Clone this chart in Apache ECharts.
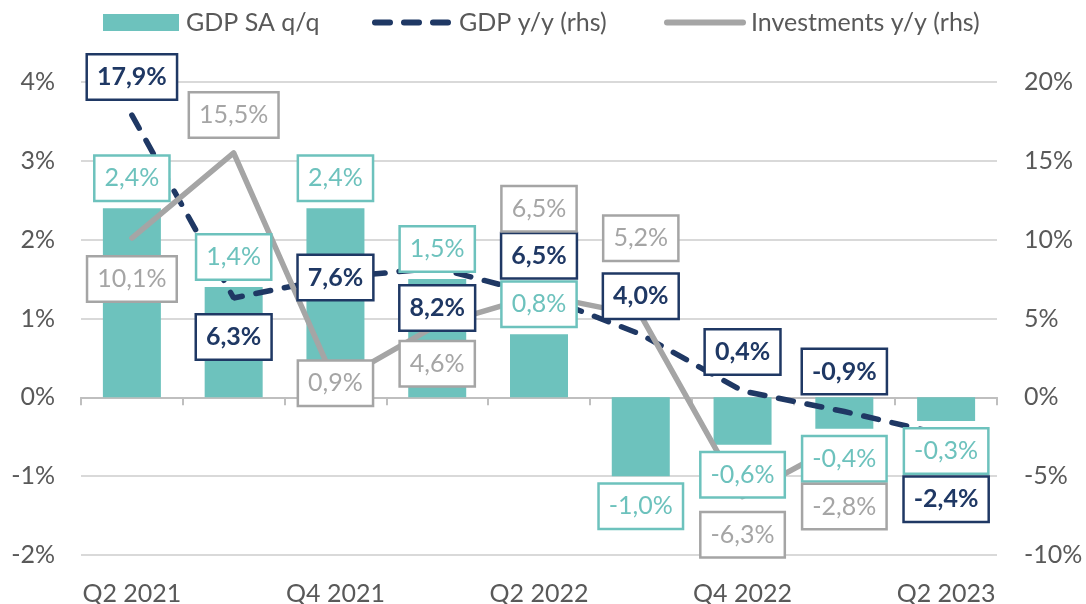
<!DOCTYPE html>
<html>
<head>
<meta charset="utf-8">
<script src="https://cdn.jsdelivr.net/npm/echarts@6/dist/echarts.min.js"></script>
<style>
html,body{margin:0;padding:0;background:#fff;}
#chart{width:1086px;height:604px;}
</style>
</head>
<body>
<div id="chart"></div>
<script>
const categories = ['Q2 2021','Q3 2021','Q4 2021','Q1 2022','Q2 2022','Q3 2022','Q4 2022','Q1 2023','Q2 2023'];
const gdpSaQq = [2.4, 1.4, 2.4, 1.5, 0.8, -1.0, -0.6, -0.4, -0.3];
const gdpYy = [17.9, 6.3, 7.6, 8.2, 6.5, 4.0, 0.4, -0.9, -2.4];
const investYy = [10.1, 15.5, 0.9, 4.6, 6.5, 5.2, -6.3, -2.8, null];
const leftAxisTicks = {min: -2, max: 4, interval: 1};
const rightAxisTicks = {min: -10, max: 20, interval: 5};

// label vertical offsets (px) relative to the point
const gdpYyLabelDy = [-38, 39, 0, 40, -39, -38, -39, -40, 64];
const investLabelDy = [41, -38, 0, 39, -86, -77, 38, 65, 0];

const TEAL = '#6DC2BD';
const NAVY = '#1F3864';
const GREY = '#A5A5A5';
const AXIS_TXT = '#595959';
const FONT = 'Lato';
const DASH = [15, 14];

const fmt = v => v.toFixed(1).replace('.', ',') + '%';

function boxLabel(color, bold) {
  return {
    show: true,
    formatter: p => fmt(p.value),
    color: color,
    fontFamily: FONT,
    fontSize: 25,
    fontWeight: bold ? 'bold' : 'normal',
    lineHeight: 29,
    backgroundColor: '#fff',
    borderColor: color,
    borderWidth: 2.5,
    padding: [7, 9, 7, 9]
  };
}

const barLabelData = gdpSaQq.map(v => ({
  value: v,
  label: {position: v >= 0 ? 'top' : 'bottom', distance: 8}
}));
const gdpYyLabelData = gdpYy.map((v, i) => ({
  value: v,
  label: {offset: [0, gdpYyLabelDy[i]]}
}));
const investLabelData = investYy.map((v, i) => ({
  value: v,
  label: {offset: [0, investLabelDy[i]]}
}));

function labelCarrier(name, yIdx, data, label) {
  return {
    name: name,
    type: 'scatter',
    xAxisIndex: 0, yAxisIndex: yIdx,
    data: data,
    symbol: 'circle', symbolSize: 1,
    itemStyle: {color: 'rgba(0,0,0,0)', opacity: 1},
    emphasis: {disabled: true},
    label: label,
    silent: true,
    z: 10
  };
}

const chart = echarts.init(document.getElementById('chart'), null, {renderer: 'canvas'});
const legendBase = {
  top: 10,
  padding: 0,
  itemWidth: 76,
  itemHeight: 17,
  textStyle: {color: AXIS_TXT, fontFamily: FONT, fontSize: 25, padding: [0, 0, 0, 3]},
  itemStyle: {color: 'rgba(0,0,0,0)', borderWidth: 0},
  selectedMode: false
};
chart.setOption({
  animation: false,
  backgroundColor: '#fff',
  legend: [
    Object.assign({}, legendBase, {left: 103, data: [{name: 'GDP SA q/q', icon: 'rect'}],
      itemStyle: {color: TEAL}, textStyle: Object.assign({}, legendBase.textStyle, {padding: [0, 0, 0, 2]})}),
    Object.assign({}, legendBase, {left: 372,
      data: ['GDP y/y (rhs)'],
      lineStyle: {color: NAVY, width: 6, type: DASH, cap: 'round'}}),
    Object.assign({}, legendBase, {left: 664,
      data: ['Investments y/y (rhs)'],
      lineStyle: {color: GREY, width: 6, cap: 'round'}})
  ],
  grid: {left: 81, right: 89, top: 82, bottom: 49, containLabel: false, outerBoundsMode: 'none'},
  xAxis: [
    {
      type: 'category',
      data: categories,
      position: 'bottom',
      axisLine: {show: true, onZero: true, onZeroAxisIndex: 0, lineStyle: {color: '#BFBFBF', width: 2}},
      axisTick: {show: true, length: 8, lineStyle: {color: '#BFBFBF', width: 2}},
      axisLabel: {show: false},
      splitLine: {show: false}
    },
    {
      type: 'category',
      data: categories,
      position: 'bottom',
      axisLine: {show: false, onZero: false},
      axisTick: {show: false},
      axisLabel: {show: true, interval: 1, color: AXIS_TXT, fontFamily: FONT, fontSize: 25, margin: 26},
      splitLine: {show: false}
    }
  ],
  yAxis: [
    {
      type: 'value',
      min: leftAxisTicks.min, max: leftAxisTicks.max, interval: leftAxisTicks.interval,
      axisLine: {show: false}, axisTick: {show: false},
      axisLabel: {formatter: v => v + '%', color: AXIS_TXT, fontFamily: FONT, fontSize: 25, margin: 26},
      splitLine: {show: true, lineStyle: {color: '#D9D9D9', width: 2}}
    },
    {
      type: 'value',
      min: rightAxisTicks.min, max: rightAxisTicks.max, interval: rightAxisTicks.interval,
      axisLine: {show: false}, axisTick: {show: false},
      axisLabel: {formatter: v => v + '%', color: AXIS_TXT, fontFamily: FONT, fontSize: 25, margin: 27},
      splitLine: {show: false}
    }
  ],
  series: [
    {
      name: 'GDP SA q/q',
      type: 'bar',
      xAxisIndex: 0, yAxisIndex: 0,
      data: gdpSaQq,
      barWidth: 58,
      itemStyle: {color: TEAL},
      z: 2
    },
    {
      name: 'GDP y/y (rhs)',
      type: 'line',
      xAxisIndex: 0, yAxisIndex: 1,
      data: gdpYy,
      symbol: 'none',
      itemStyle: {color: NAVY},
      lineStyle: {color: NAVY, width: 5.5, type: DASH, cap: 'round'},
      z: 3
    },
    {
      name: 'Investments y/y (rhs)',
      type: 'line',
      xAxisIndex: 0, yAxisIndex: 1,
      data: investYy,
      symbol: 'none',
      itemStyle: {color: GREY},
      lineStyle: {color: GREY, width: 5.5, cap: 'round', join: 'round'},
      z: 3
    },
    labelCarrier('lbl-gdp-qq', 0, barLabelData, boxLabel(TEAL, false)),
    labelCarrier('lbl-gdp-yy', 1, gdpYyLabelData, Object.assign(boxLabel(NAVY, true), {position: 'inside'})),
    labelCarrier('lbl-inv-yy', 1, investLabelData, Object.assign(boxLabel(GREY, false), {position: 'inside'}))
  ]
});
</script>
</body>
</html>
